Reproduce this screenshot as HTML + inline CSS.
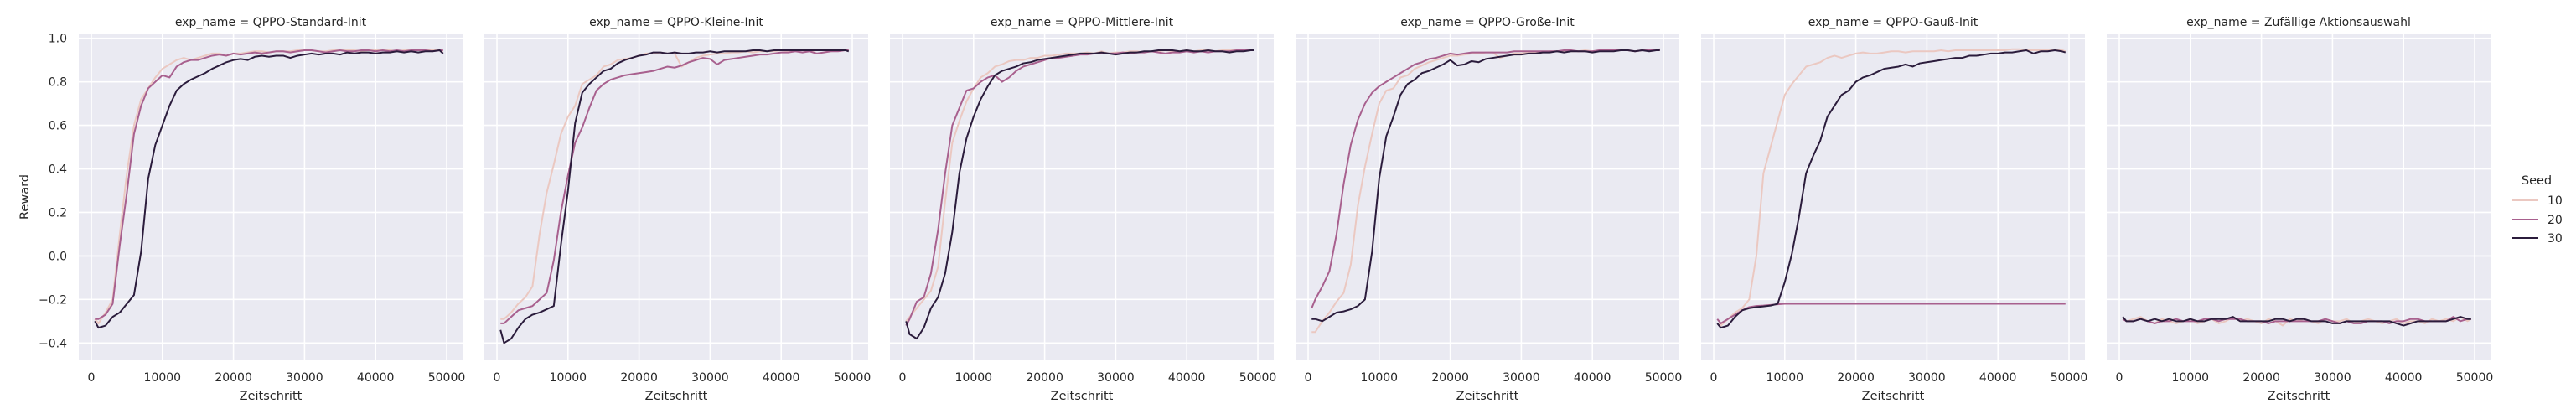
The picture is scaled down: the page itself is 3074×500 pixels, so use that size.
<!DOCTYPE html>
<html><head><meta charset="utf-8">
<style>
html,body{margin:0;padding:0;background:#fff;}
svg{display:block;font-family:"DejaVu Sans","Liberation Sans",sans-serif;}
</style></head>
<body>
<svg id="chart" width="3074" height="500" viewBox="0 0 3074 500" xmlns="http://www.w3.org/2000/svg"></svg>
<script>
const panelTitles = ["exp_name = QPPO-Standard-Init","exp_name = QPPO-Kleine-Init","exp_name = QPPO-Mittlere-Init","exp_name = QPPO-Große-Init","exp_name = QPPO-Gauß-Init","exp_name = Zufällige Aktionsauswahl"];
const seeds = ["10","20","30"];
const xTicks = [0,10000,20000,30000,40000,50000];
const yTicks = [-0.4,-0.2,0.0,0.2,0.4,0.6,0.8,1.0];
const yTickLabels = ["−0.4","−0.2","0.0","0.2","0.4","0.6","0.8","1.0"];
const steps = [500,1000,2000,3000,4000,5000,6000,7000,8000,9000,10000,11000,12000,13000,14000,15000,16000,17000,18000,19000,20000,21000,22000,23000,24000,25000,26000,27000,28000,29000,30000,31000,32000,33000,34000,35000,36000,37000,38000,39000,40000,41000,42000,43000,44000,45000,46000,47000,48000,49000,49500];

const p1s10 = [-0.29,-0.31,-0.26,-0.20,0.10,0.38,0.60,0.72,0.77,0.82,0.86,0.88,0.90,0.91,0.90,0.91,0.92,0.93,0.93,0.92,0.93,0.93,0.935,0.94,0.94,0.935,0.94,0.94,0.94,0.945,0.945,0.945,0.94,0.94,0.945,0.945,0.945,0.945,0.94,0.945,0.945,0.945,0.945,0.94,0.945,0.945,0.945,0.945,0.945,0.945,0.94];
const p1s20 = [-0.29,-0.29,-0.27,-0.22,0.05,0.29,0.56,0.69,0.77,0.80,0.83,0.82,0.87,0.89,0.90,0.90,0.91,0.92,0.925,0.92,0.93,0.925,0.93,0.935,0.93,0.935,0.94,0.94,0.935,0.94,0.945,0.945,0.94,0.935,0.94,0.945,0.94,0.94,0.945,0.945,0.94,0.945,0.94,0.945,0.94,0.945,0.945,0.945,0.94,0.945,0.945];
const p1s30 = [-0.30,-0.33,-0.32,-0.28,-0.26,-0.22,-0.18,0.02,0.355,0.51,0.60,0.69,0.76,0.79,0.81,0.825,0.84,0.86,0.875,0.89,0.90,0.905,0.90,0.915,0.92,0.915,0.92,0.92,0.91,0.92,0.925,0.93,0.925,0.93,0.93,0.925,0.935,0.93,0.935,0.935,0.93,0.935,0.935,0.94,0.935,0.94,0.935,0.94,0.94,0.945,0.93];

const p2s10 = [-0.29,-0.29,-0.26,-0.22,-0.19,-0.14,0.10,0.29,0.42,0.56,0.64,0.69,0.79,0.81,0.83,0.87,0.88,0.90,0.905,0.91,0.92,0.93,0.93,0.935,0.93,0.93,0.87,0.89,0.91,0.92,0.925,0.93,0.93,0.935,0.935,0.94,0.935,0.94,0.94,0.94,0.945,0.94,0.945,0.945,0.94,0.945,0.945,0.94,0.945,0.945,0.945];
const p2s20 = [-0.31,-0.31,-0.28,-0.25,-0.24,-0.23,-0.20,-0.17,-0.02,0.20,0.37,0.52,0.59,0.68,0.76,0.79,0.81,0.82,0.83,0.835,0.84,0.845,0.85,0.86,0.87,0.865,0.875,0.89,0.90,0.91,0.905,0.88,0.90,0.905,0.91,0.915,0.92,0.925,0.925,0.93,0.935,0.935,0.94,0.935,0.94,0.93,0.935,0.94,0.94,0.945,0.945];
const p2s30 = [-0.34,-0.40,-0.38,-0.33,-0.29,-0.27,-0.26,-0.245,-0.23,0.05,0.30,0.61,0.75,0.79,0.82,0.85,0.86,0.885,0.90,0.91,0.92,0.925,0.935,0.935,0.93,0.935,0.93,0.93,0.935,0.935,0.94,0.935,0.94,0.94,0.94,0.94,0.945,0.945,0.94,0.945,0.945,0.945,0.945,0.945,0.945,0.945,0.945,0.945,0.945,0.945,0.94];

const p3s10 = [-0.30,-0.28,-0.24,-0.20,-0.16,-0.05,0.25,0.52,0.62,0.71,0.77,0.82,0.84,0.87,0.88,0.895,0.90,0.90,0.91,0.91,0.92,0.92,0.925,0.93,0.93,0.93,0.935,0.93,0.94,0.93,0.935,0.935,0.94,0.94,0.935,0.94,0.94,0.945,0.94,0.94,0.945,0.94,0.945,0.945,0.94,0.945,0.945,0.945,0.945,0.945,0.945];
const p3s20 = [-0.32,-0.29,-0.21,-0.19,-0.08,0.12,0.38,0.60,0.68,0.76,0.77,0.80,0.82,0.83,0.80,0.82,0.85,0.87,0.88,0.89,0.90,0.91,0.91,0.915,0.92,0.925,0.925,0.93,0.93,0.93,0.93,0.935,0.93,0.935,0.935,0.94,0.935,0.93,0.935,0.935,0.94,0.935,0.94,0.935,0.94,0.94,0.94,0.945,0.945,0.945,0.945];
const p3s30 = [-0.30,-0.36,-0.38,-0.33,-0.24,-0.19,-0.08,0.11,0.38,0.54,0.64,0.72,0.78,0.83,0.85,0.86,0.87,0.885,0.89,0.90,0.905,0.91,0.915,0.92,0.925,0.93,0.93,0.93,0.935,0.93,0.925,0.93,0.935,0.935,0.94,0.94,0.945,0.945,0.945,0.94,0.945,0.94,0.94,0.945,0.94,0.94,0.935,0.94,0.94,0.945,0.945];

const p4s10 = [-0.35,-0.35,-0.30,-0.26,-0.21,-0.17,-0.04,0.23,0.41,0.56,0.70,0.76,0.77,0.82,0.83,0.86,0.875,0.89,0.90,0.91,0.92,0.92,0.925,0.93,0.93,0.935,0.935,0.91,0.92,0.93,0.93,0.935,0.935,0.935,0.94,0.94,0.94,0.94,0.94,0.945,0.94,0.945,0.945,0.945,0.945,0.945,0.94,0.945,0.945,0.945,0.945];
const p4s20 = [-0.24,-0.20,-0.14,-0.07,0.10,0.33,0.51,0.625,0.70,0.75,0.78,0.80,0.82,0.84,0.86,0.88,0.89,0.905,0.91,0.92,0.93,0.925,0.93,0.935,0.935,0.935,0.935,0.935,0.935,0.94,0.94,0.94,0.94,0.94,0.94,0.94,0.945,0.945,0.94,0.94,0.94,0.945,0.945,0.945,0.945,0.945,0.94,0.945,0.945,0.945,0.95];
const p4s30 = [-0.29,-0.29,-0.30,-0.28,-0.26,-0.255,-0.245,-0.23,-0.20,0.02,0.355,0.55,0.64,0.74,0.79,0.81,0.84,0.85,0.865,0.88,0.90,0.875,0.88,0.895,0.89,0.905,0.91,0.915,0.92,0.925,0.925,0.93,0.93,0.935,0.935,0.94,0.935,0.94,0.94,0.94,0.935,0.94,0.94,0.94,0.945,0.945,0.94,0.945,0.94,0.945,0.945];

const p5s10 = [-0.31,-0.32,-0.29,-0.26,-0.24,-0.20,0.00,0.38,0.50,0.62,0.74,0.79,0.83,0.87,0.88,0.89,0.91,0.92,0.91,0.92,0.93,0.935,0.93,0.93,0.935,0.94,0.94,0.935,0.94,0.94,0.94,0.94,0.945,0.94,0.945,0.945,0.945,0.945,0.945,0.945,0.945,0.945,0.95,0.95,0.945,0.945,0.945,0.945,0.945,0.945,0.94];
const p5s20 = [-0.29,-0.31,-0.29,-0.27,-0.25,-0.235,-0.23,-0.228,-0.225,-0.222,-0.22,-0.22,-0.22,-0.22,-0.22,-0.22,-0.22,-0.22,-0.22,-0.22,-0.22,-0.22,-0.22,-0.22,-0.22,-0.22,-0.22,-0.22,-0.22,-0.22,-0.22,-0.22,-0.22,-0.22,-0.22,-0.22,-0.22,-0.22,-0.22,-0.22,-0.22,-0.22,-0.22,-0.22,-0.22,-0.22,-0.22,-0.22,-0.22,-0.22,-0.22];
const p5s30 = [-0.31,-0.33,-0.32,-0.28,-0.25,-0.24,-0.235,-0.232,-0.228,-0.22,-0.12,0.01,0.18,0.38,0.46,0.53,0.64,0.69,0.74,0.76,0.80,0.82,0.83,0.845,0.86,0.865,0.87,0.88,0.87,0.885,0.89,0.895,0.90,0.905,0.91,0.91,0.92,0.92,0.925,0.93,0.93,0.935,0.935,0.94,0.945,0.93,0.94,0.94,0.945,0.94,0.935];

const p6s10 = [-0.29,-0.30,-0.29,-0.28,-0.30,-0.31,-0.29,-0.30,-0.31,-0.30,-0.29,-0.31,-0.30,-0.29,-0.31,-0.30,-0.28,-0.30,-0.29,-0.30,-0.31,-0.29,-0.30,-0.32,-0.29,-0.30,-0.29,-0.30,-0.31,-0.29,-0.30,-0.30,-0.29,-0.31,-0.30,-0.29,-0.30,-0.31,-0.30,-0.29,-0.31,-0.30,-0.30,-0.31,-0.29,-0.30,-0.29,-0.30,-0.28,-0.30,-0.29];
const p6s20 = [-0.29,-0.30,-0.30,-0.29,-0.30,-0.31,-0.30,-0.30,-0.29,-0.30,-0.30,-0.30,-0.29,-0.29,-0.30,-0.29,-0.29,-0.29,-0.30,-0.30,-0.30,-0.31,-0.30,-0.30,-0.30,-0.30,-0.30,-0.30,-0.30,-0.29,-0.30,-0.31,-0.30,-0.31,-0.31,-0.30,-0.30,-0.30,-0.31,-0.30,-0.30,-0.29,-0.29,-0.30,-0.30,-0.30,-0.30,-0.28,-0.30,-0.29,-0.29];
const p6s30 = [-0.28,-0.30,-0.30,-0.29,-0.30,-0.29,-0.30,-0.29,-0.30,-0.30,-0.29,-0.30,-0.30,-0.29,-0.29,-0.29,-0.28,-0.30,-0.30,-0.30,-0.30,-0.30,-0.29,-0.29,-0.30,-0.29,-0.29,-0.30,-0.30,-0.30,-0.31,-0.31,-0.30,-0.30,-0.30,-0.30,-0.30,-0.30,-0.30,-0.31,-0.32,-0.31,-0.30,-0.30,-0.30,-0.30,-0.30,-0.29,-0.28,-0.29,-0.29];

const panelSeries = [[p1s10,p1s20,p1s30],[p2s10,p2s20,p2s30],[p3s10,p3s20,p3s30],[p4s10,p4s20,p4s30],[p5s10,p5s20,p5s30],[p6s10,p6s20,p6s30]];
const seedColors = ["#ebc8c1","#a8608e","#2b1c3c"];

const NS = "http://www.w3.org/2000/svg";
const svg = document.getElementById("chart");
const P_LEFT0 = 94, P_STEP = 484, P_W = 458, P_TOP = 40, P_BOT = 429;
const XMIN = -1770, XMAX = 52240;
const Y1 = 45.7, YM = 409.3; // pixel rows of 1.0 and -0.4
function xScale(p, v){ return P_LEFT0 + p*P_STEP + (v - XMIN)/(XMAX - XMIN)*P_W; }
function yScale(v){ return Y1 + (1.0 - v)/1.4*(YM - Y1); }
function mk(tag, attrs, parent){
  const e = document.createElementNS(NS, tag);
  for (const k in attrs) e.setAttribute(k, attrs[k]);
  (parent||svg).appendChild(e);
  return e;
}
const TXT = "#262626";

for (let p = 0; p < 6; p++){
  const g = mk("g", {});
  
  
  const left = P_LEFT0 + p*P_STEP;
  const bg = mk("rect", {x:left, y:P_TOP, width:P_W, height:P_BOT-P_TOP, fill:"#eaeaf2"}, g);
  
  
  yTicks.forEach(function(t){
    const y = yScale(t);
    const l = mk("line", {x1:left, x2:left+P_W, y1:y, y2:y, stroke:"#fff", "stroke-width":1.6}, g);
    
    
  });
  xTicks.forEach(function(t){
    const x = xScale(p, t);
    const l = mk("line", {x1:x, x2:x, y1:P_TOP, y2:P_BOT, stroke:"#fff", "stroke-width":1.6}, g);
    
    
    const tl = mk("text", {x:x, y:455, "text-anchor":"middle", "font-size":14, fill:TXT}, g);
    tl.textContent = String(t);
    
    
  });
  const title = mk("text", {x:left+P_W/2, y:31, "text-anchor":"middle", "font-size":14, fill:TXT}, g);
  title.textContent = panelTitles[p];
  
  
  const xl = mk("text", {x:left+P_W/2, y:477, "text-anchor":"middle", "font-size":14.5, fill:TXT}, g);
  xl.textContent = "Zeitschritt";
  
  
  const clipId = "clip" + p;
  const cp = mk("clipPath", {id:clipId}, g);
  mk("rect", {x:left, y:P_TOP, width:P_W, height:P_BOT-P_TOP}, cp);
  panelSeries[p].forEach(function(vals, s){
    const n = Math.min(vals.length, steps.length);
    let d = "";
    for (let i = 0; i < n; i++){
      d += (i ? "L" : "M") + xScale(p, steps[i]).toFixed(2) + "," + yScale(vals[i]).toFixed(2);
    }
    const path = mk("path", {d:d, fill:"none", stroke:seedColors[s], "stroke-width":2, "stroke-linejoin":"round", "clip-path":"url(#"+clipId+")"}, g);
    
    
  });
}
yTicks.forEach(function(t, i){
  const tl = mk("text", {x:80, y:yScale(t)+5, "text-anchor":"end", "font-size":14, fill:TXT});
  tl.textContent = yTickLabels[i];
  
  
});
const yl = mk("text", {x:34, y:235, "text-anchor":"middle", "font-size":14.5, fill:TXT, transform:"rotate(-90 34 235)"});
yl.textContent = "Reward";



const lg = mk("g", {});


const lt = mk("text", {x:3027, y:220, "text-anchor":"middle", "font-size":14.5, fill:TXT}, lg);
lt.textContent = "Seed";


const legY = [239, 262, 284];
seeds.forEach(function(s, i){
  const ln = mk("line", {x1:2998, x2:3029, y1:legY[i], y2:legY[i], stroke:seedColors[i], "stroke-width":2}, lg);
  
  
  const tx = mk("text", {x:3040, y:legY[i]+5, "font-size":14, fill:TXT}, lg);
  tx.textContent = s;
  
  
});
</script>
</body></html>
